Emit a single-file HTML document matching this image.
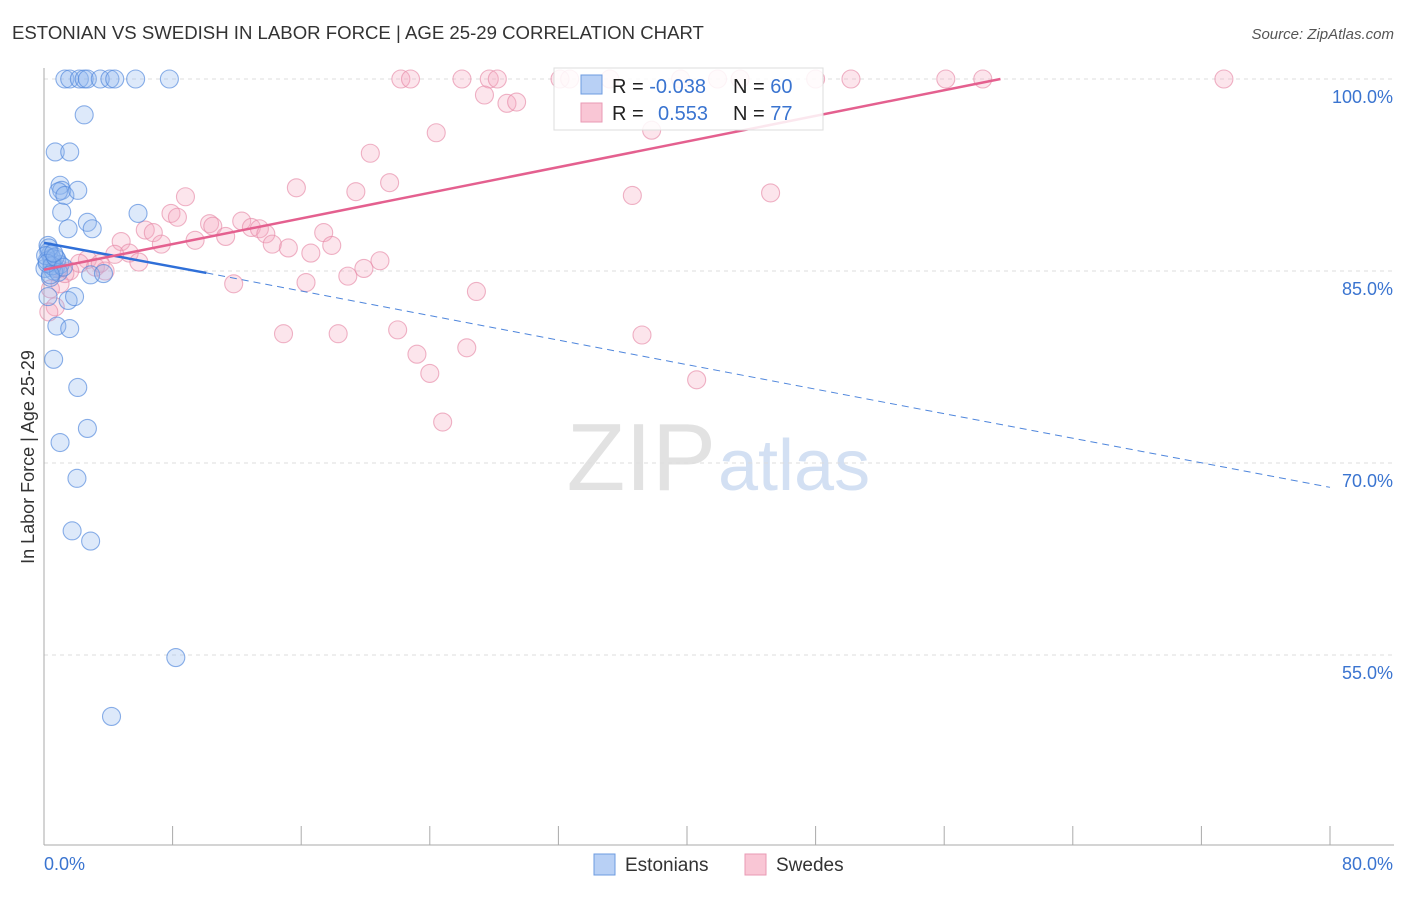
<!DOCTYPE html>
<html><head><meta charset="utf-8"><style>
body{margin:0;background:#fff;font-family:"Liberation Sans",sans-serif}
svg text{font-family:"Liberation Sans",sans-serif}
</style></head><body>
<svg id="c" width="1406" height="892">
<text x="12" y="39" font-size="18.6" fill="#333">ESTONIAN VS SWEDISH IN LABOR FORCE | AGE 25-29 CORRELATION CHART</text>
<text x="1394" y="39" font-size="15" fill="#555" font-style="italic" text-anchor="end">Source: ZipAtlas.com</text>
<text x="716" y="490" font-size="96" fill="#e2e2e2" text-anchor="end" font-family="Liberation Serif">ZIP</text>
<text x="718" y="490" font-size="72" fill="#d3e0f3">atlas</text>
<g id="grid"></g><g id="marks"></g>
<text transform="translate(34,457) rotate(-90)" font-size="18" fill="#333" text-anchor="middle">In Labor Force | Age 25-29</text>
<g>
<rect x="554" y="68" width="269" height="62" fill="#fff" fill-opacity="0.85" stroke="#ddd"/>
<rect x="581" y="75" width="21" height="19" fill="#b8d0f5" stroke="#6d9be0"/>
<rect x="581" y="103" width="21" height="19" fill="#f9c6d5" stroke="#e99ab4"/>
<text x="612" y="93" font-size="20" fill="#222">R = <tspan fill="#3a74d0">-0.038</tspan></text>
<text x="733" y="93" font-size="20" fill="#222">N = <tspan fill="#3a74d0">60</tspan></text>
<text x="612" y="120" font-size="20" fill="#222">R = <tspan fill="#3a74d0" x="658">0.553</tspan></text>
<text x="733" y="120" font-size="20" fill="#222">N = <tspan fill="#3a74d0">77</tspan></text>
</g>
<g>
<rect x="594" y="854" width="21" height="21" fill="#b8d0f5" stroke="#6d9be0"/>
<text x="625" y="871" font-size="19" fill="#333">Estonians</text>
<rect x="745" y="854" width="21" height="21" fill="#f9c6d5" stroke="#e99ab4"/>
<text x="776" y="871" font-size="19" fill="#333">Swedes</text>
</g>
</svg>
<script>
const yTicks=[100,85,70,55];
const yTickLabels=["100.0%","85.0%","70.0%","55.0%"];
const xTicks=[0,8,16,24,32,40,48,56,64,72,80];
const blueX=[1.3,1.6,2.2,2.5,2.7,3.5,4.1,4.4,5.7,7.8,2.5,0.7,1.6,1.0,1.1,0.9,1.3,2.1,1.1,1.5,2.7,3.0,5.85,2.9,3.7,0.25,0.4,0.5,0.7,0.06,1.0,0.25,1.5,1.9,0.8,1.6,0.6,2.1,1.0,2.7,2.05,1.75,2.9,8.2,4.2,0.3,0.5,0.2,0.6,0.4,0.8,0.3,0.1,0.5,0.9,0.2,0.7,1.2,0.4,0.6];
const blueY=[100,100,100,100,100,100,100,100,100,100,97.2,94.3,94.3,91.7,91.3,91.2,90.9,91.3,89.6,88.3,88.8,88.3,89.5,84.7,84.8,87.0,86.3,85.7,85.2,85.2,85.5,83.0,82.7,83.0,80.7,80.5,78.1,75.9,71.6,72.7,68.8,64.7,63.9,54.8,50.2,86.5,86.0,85.8,85.0,84.5,85.9,86.8,86.2,85.4,84.9,85.6,86.1,85.3,84.7,86.4];
const pinkX=[22.2,22.8,26.0,27.7,28.2,32.1,32.7,35.2,39.6,41.9,43.3,48.0,50.2,56.1,58.4,73.4,27.4,28.8,29.4,24.4,37.8,20.3,15.7,19.4,21.5,36.6,45.2,8.8,7.9,8.3,10.3,10.5,12.3,12.9,13.4,13.8,11.3,9.4,6.3,6.8,4.8,7.3,5.3,4.4,5.9,2.7,2.2,3.2,1.6,3.5,3.8,17.4,17.9,15.2,16.6,14.2,20.9,19.9,18.9,11.8,16.3,26.9,14.9,18.3,22.0,23.2,24.0,26.3,37.2,40.6,24.8,0.7,1.0,0.4,1.3,0.3,0.9];
const pinkY=[100,100,100,100,100,100,100,100,100,100,100,100,100,100,100,100,98.75,98.1,98.2,95.8,96.0,94.2,91.5,91.2,91.9,90.9,91.1,90.8,89.5,89.2,88.7,88.5,88.9,88.4,88.3,87.9,87.7,87.4,88.2,88.0,87.3,87.1,86.4,86.3,85.7,85.9,85.6,85.3,85.0,85.6,85.0,88.0,87.0,86.8,86.4,87.1,85.8,85.2,84.6,84.0,84.1,83.4,80.1,80.1,80.4,78.5,77.0,79.0,80.0,76.5,73.2,82.2,84.0,83.6,84.8,81.8,85.2];
const svg=document.getElementById('c'),G=document.getElementById('grid'),M=document.getElementById('marks');
const NS='http://www.w3.org/2000/svg';
const X=v=>44+v*16.075, Y=v=>79+(100-v)*12.8;
function mk(t,a,p){const e=document.createElementNS(NS,t);for(const k in a)e.setAttribute(k,a[k]);p.appendChild(e);return e;}
yTicks.forEach((v,i)=>{
 const l=mk('line',{x1:44,x2:1394,y1:Y(v),y2:Y(v),stroke:'#ddd','stroke-dasharray':'4 4'},G);
 
 
 const t=mk('text',{x:1393,y:Y(v)+24,'font-size':18,fill:'#3a74d0','text-anchor':'end'},G);t.textContent=yTickLabels[i];
 
 
});
const ax=mk('line',{x1:44,x2:44,y1:68,y2:845,stroke:'#aaa'},G);


const bx=mk('line',{x1:44,x2:1394,y1:845,y2:845,stroke:'#aaa'},G);


xTicks.forEach(v=>{const l=mk('line',{x1:X(v),x2:X(v),y1:826,y2:845,stroke:'#aaa'},G);
 
 });
const xl=mk('text',{x:44,y:870,'font-size':18,fill:'#3a74d0'},G);xl.textContent='0.0%';


const xr=mk('text',{x:1393,y:870,'font-size':18,fill:'#3a74d0','text-anchor':'end'},G);xr.textContent='80.0%';


function pts(xs,ys,fill,stroke,name){xs.forEach((x,i)=>{const c=mk('circle',{cx:X(x),cy:Y(ys[i]),r:9,fill:fill,'fill-opacity':0.3,stroke:stroke,'stroke-opacity':0.65,'stroke-width':1.1},M);
 
 });}
pts(pinkX,pinkY,'#f5a9c0','#e68aa8','swede-point');
pts(blueX,blueY,'#8fb6ee','#4f86dc','estonian-point');
const l1=mk('line',{x1:X(0),y1:Y(87.2),x2:X(10.1),y2:Y(84.85),stroke:'#2f6fd8','stroke-width':2.5},M);


const l2=mk('line',{x1:X(10.1),y1:Y(84.85),x2:X(80),y2:Y(68.1),stroke:'#4f86dc','stroke-width':1,'stroke-dasharray':'7 5'},M);


const l3=mk('line',{x1:X(0),y1:Y(85.1),x2:X(59.5),y2:Y(100),stroke:'#e4608f','stroke-width':2.5},M);


</script>
</body></html>
